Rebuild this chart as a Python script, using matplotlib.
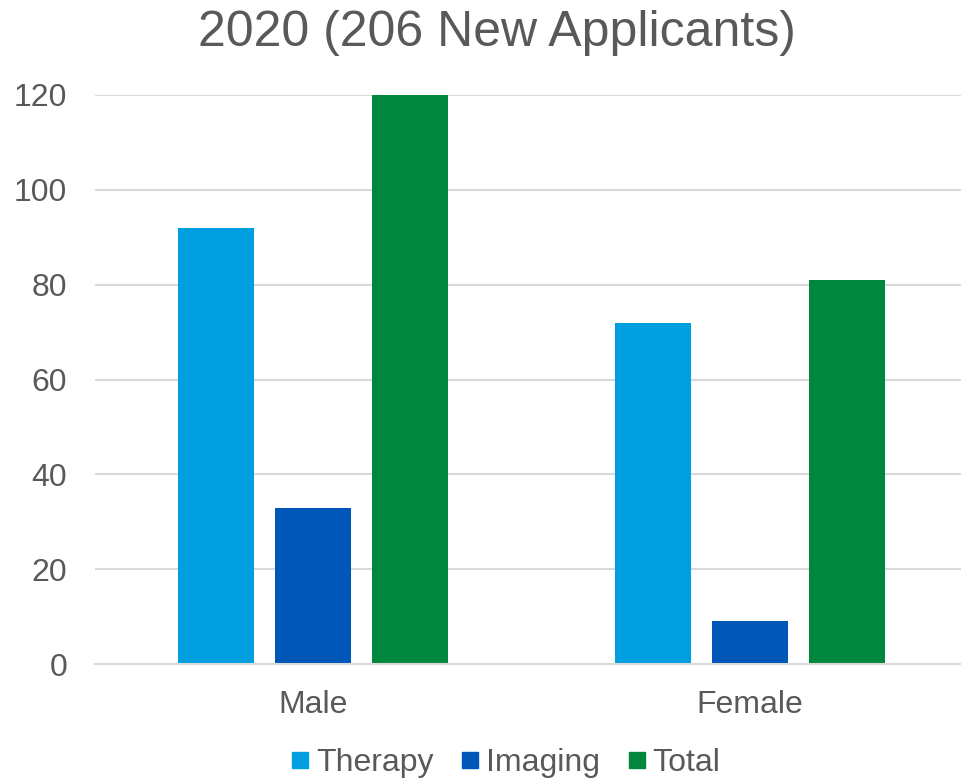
import numpy as np
import matplotlib.pyplot as plt
from matplotlib.lines import Line2D

plt.rcParams['font.family'] = ['Liberation Sans', 'DejaVu Sans']

# Veriler
kategoriler = ['Male', 'Female']
seriler = ['Therapy', 'Imaging', 'Total']
therapy = [92, 72]
imaging = [33, 9]
total = [120, 81]
renkler = ['#009FE0', '#0057B7', '#00873D']
yticks = [0, 20, 40, 60, 80, 100, 120]

gri = '#595959'
fig = plt.figure(figsize=(9.62, 7.8), dpi=100)
ax = fig.add_axes([95 / 962, 1 - 664 / 780, 1 - 95 / 962, (664 - 95) / 780])

x = np.arange(len(kategoriler))
genislik = 0.174
adim = 0.222
for i, (degerler, renk) in enumerate(zip([therapy, imaging, total], renkler)):
    ax.bar(x + (i - 1) * adim, degerler, genislik, color=renk, zorder=3)

ax.set_xlim(-0.5, 1 + (962 - 750) / 437)
ax.set_ylim(0, 120)
ax.set_yticks(yticks)
ax.set_xticks(x)
ax.set_xticklabels(kategoriler)
ax.grid(axis='y', color='#D9D9D9', linewidth=1.5, zorder=0)
for s in ax.spines.values():
    s.set_visible(False)
ax.axhline(0, color='#D9D9D9', linewidth=1.5, zorder=4, clip_on=False)
ax.tick_params(axis='y', length=0, pad=20, labelsize=23, labelcolor=gri)
ax.tick_params(axis='x', length=0, pad=19, labelsize=23, labelcolor=gri)

fig.text(497 / 962, 1 - 33 / 780, '2020 (206 New Applicants)', ha='center', va='center',
         fontsize=36, color=gri)

tutamaclar = [Line2D([], [], marker='s', linestyle='', markersize=12, color=r) for r in renkler]
fig.legend(tutamaclar, seriler, loc='center', bbox_to_anchor=(503 / 962, 1 - 763 / 780),
           ncol=3, frameon=False, fontsize=23, labelcolor=gri, handletextpad=0.05,
           columnspacing=0.7, handlelength=0.9)

plt.savefig('out.png', dpi=100)
